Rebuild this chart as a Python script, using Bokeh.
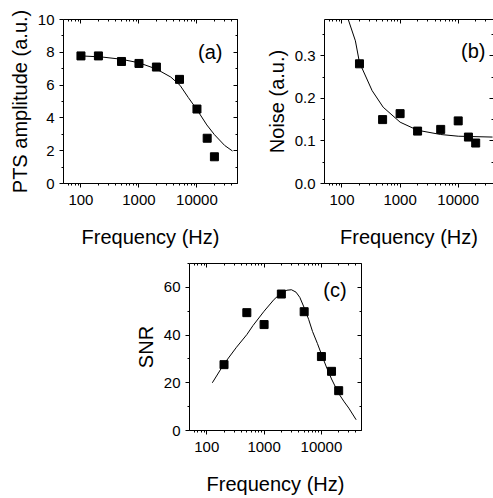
from bokeh.plotting import figure
from bokeh.layouts import column, row
from bokeh.models import (FixedTicker, SingleIntervalTicker, PrintfTickFormatter,
                          LogAxis, LinearAxis, Range1d, Label)
from bokeh.embed import file_html
from bokeh.resources import INLINE

FONT = "Liberation Sans"

# ---- data ----
freq = [100, 200, 500, 1000, 2000, 5000, 10000, 15000, 20000]
pts_amp = [7.78, 7.78, 7.44, 7.32, 7.10, 6.35, 4.54, 2.76, 1.63]
fit_a_f = [100, 221, 490, 1000, 2000, 3540, 5100, 7100, 10000, 14800, 20000, 30000, 41000]
fit_a_v = [7.78, 7.72, 7.58, 7.36, 6.98, 6.49, 5.99, 5.24, 4.50, 3.57, 2.98, 2.32, 1.98]

freq_b = [200, 500, 1000, 2000, 5000, 10000, 15000, 20000]
noise = [0.281, 0.150, 0.164, 0.123, 0.127, 0.147, 0.109, 0.095]
fit_b_f = [126, 170, 200, 330, 512, 1000, 2000, 5000, 10000, 39000]
fit_b_v = [0.388, 0.335, 0.284, 0.218, 0.179, 0.144, 0.125, 0.115, 0.111, 0.109]

freq_c = [200, 500, 1000, 2000, 5000, 10000, 15000, 20000]
snr = [27.6, 49.4, 44.4, 57.2, 49.8, 31.0, 24.8, 16.7]
fit_c_f = [125, 200, 330, 500, 641, 1000, 1500, 2000, 2500, 3000, 3600, 4200, 5000, 6000,
           7000, 8500, 10000, 12500, 15000, 20000, 25000, 30000, 40300]
fit_c_v = [20.0, 27.9, 34.9, 40.2, 44.0, 50.0, 55.0, 57.6, 58.8, 59.0, 58.0, 55.8, 51.5, 46.5,
           41.5, 36.5, 32.0, 26.0, 21.6, 15.5, 12.0, 9.4, 4.5]

x_major = [100, 1000, 10000]
x_minor = [m * d for d in (10, 100, 1000, 10000) for m in range(2, 10)
           if 50 < m * d < 50000 and m * d not in x_major]


def style(ax, inside, labels, kind="x"):
    ax.axis_line_color = "black"
    ax.axis_line_width = 1
    ax.major_tick_line_color = "black"
    ax.minor_tick_line_color = "black"
    if inside:
        ax.major_tick_in, ax.major_tick_out = 4, 0
        ax.minor_tick_in, ax.minor_tick_out = 2, 0
    else:
        ax.major_tick_in, ax.major_tick_out = 0, 4
        ax.minor_tick_in, ax.minor_tick_out = 0, 2
    if labels:
        ax.major_label_text_font = FONT
        ax.major_label_text_font_size = "15px"
        ax.major_label_text_color = "black"
        ax.axis_label_text_font = FONT
        ax.axis_label_text_font_size = "20px"
        ax.axis_label_text_font_style = "normal"
        ax.axis_label_text_color = "black"
        if kind == "x":
            ax.major_label_standoff = 7
            ax.axis_label_standoff = 18
        else:
            ax.major_label_standoff = 5
            ax.axis_label_standoff = 4
    else:
        ax.major_label_text_font_size = "1px"
        ax.major_label_text_color = None
        ax.major_label_standoff = 0


def make_fig(xend, yend, yint, ylabel, ytickfmt, w, h, bl, bt, br, bb, right_line=True):
    p = figure(x_axis_type="log", x_range=Range1d(50, xend), y_range=Range1d(0, yend),
               width=w, height=h, min_border_left=bl, min_border_top=bt,
               min_border_right=br, min_border_bottom=bb,
               toolbar_location=None, output_backend="svg")
    p.outline_line_color = None
    p.xgrid.visible = False
    p.ygrid.visible = False
    p.background_fill_color = "white"
    p.border_fill_color = "white"

    xa = p.xaxis[0]
    xa.ticker = FixedTicker(ticks=x_major, minor_ticks=x_minor)
    xa.formatter = PrintfTickFormatter(format="%d")
    xa.axis_label = "Frequency (Hz)"
    style(xa, False, True, "x")
    ya = p.yaxis[0]
    ya.ticker = SingleIntervalTicker(interval=yint, num_minor_ticks=2)
    ya.formatter = PrintfTickFormatter(format=ytickfmt)
    ya.axis_label = ylabel
    style(ya, False, True, "y")

    top = LogAxis(ticker=FixedTicker(ticks=x_major, minor_ticks=x_minor))
    style(top, True, False)
    p.add_layout(top, "above")
    right = LinearAxis(ticker=SingleIntervalTicker(interval=yint, num_minor_ticks=2))
    style(right, True, False)
    if not right_line:
        right.axis_line_color = None
    p.add_layout(right, "right")
    return p


def tag(p, x, y, t):
    p.add_layout(Label(x=x, y=y, text=t, text_align="right", text_baseline="top",
                       text_font=FONT, text_font_size="20px", text_color="black"))


pa = make_fig(50000, 10, 2, "PTS amplitude (a.u.)", "%d", 250, 250, 63, 16, 13, 66)
pa.line(fit_a_f, fit_a_v, line_color="black", line_width=1)
pa.scatter(freq, pts_amp, marker="square", size=8, color="black")
tag(pa, 27500, 8.7, "(a)")

pb = make_fig(40500, 0.385, 0.1, "Noise (a.u.)", "%.1f", 243, 250, 74, 19, 0, 66, right_line=False)
pb.line(fit_b_f, fit_b_v, line_color="black", line_width=1)
pb.scatter(freq_b, noise, marker="square", size=8, color="black")
tag(pb, 29500, 0.338, "(b)")

pc = make_fig(50000, 70, 20, "SNR", "%d", 371, 248, 189, 13, 10, 68)
pc.line(fit_c_f, fit_c_v, line_color="black", line_width=1)
pc.scatter(freq_c, snr, marker="square", size=8, color="black")
tag(pc, 27500, 63.5, "(c)")

layout = column(row(pa, pb), pc)
open("out.html", "w").write(file_html(layout, INLINE))
